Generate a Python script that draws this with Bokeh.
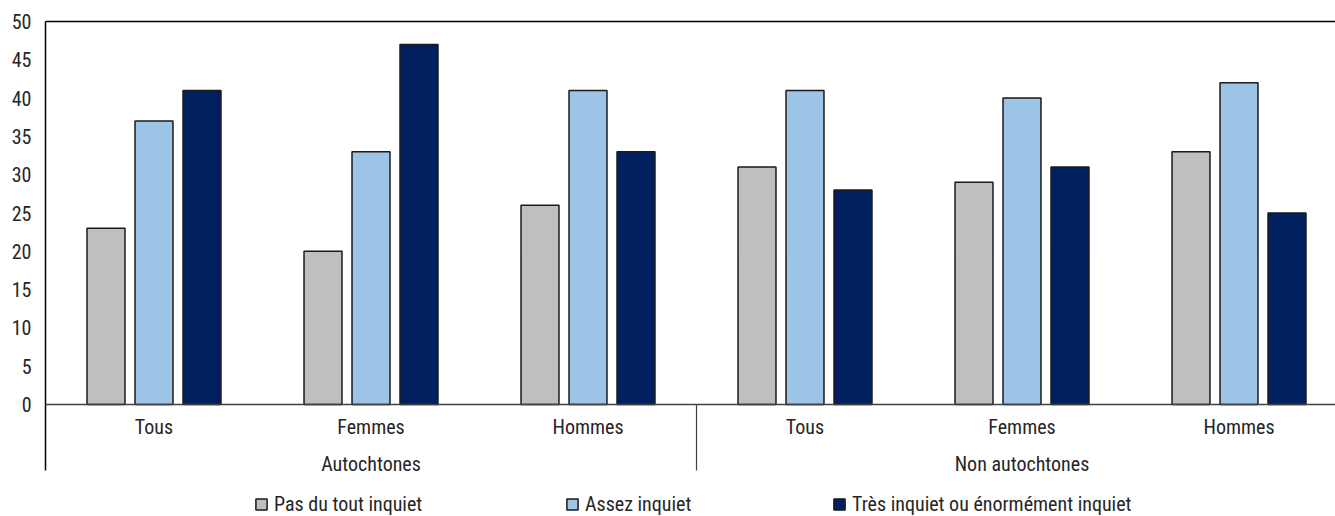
from bokeh.plotting import figure
from bokeh.models import (Range1d, LinearAxis, FixedTicker, Legend, LegendItem,
                          ColumnDataSource, Span)
from bokeh.core.properties import value
from bokeh.embed import file_html
from bokeh.resources import INLINE

# Survey shares (%) by population and sex
populations = ["Autochtones", "Non autochtones"]
subgroups = ["Tous", "Femmes", "Hommes"]
series_names = ["Pas du tout inquiet", "Assez inquiet",
                "Très inquiet ou énormément inquiet"]
pas_du_tout = [23, 20, 26, 31, 29, 33]
assez = [37, 33, 41, 41, 40, 42]
tres = [41, 47, 33, 28, 31, 25]
y_ticks = [0, 5, 10, 15, 20, 25, 30, 35, 40, 45, 50]

colors = ["#bfbfbf", "#9dc3e6", "#002060"]
FONT = "Roboto Condensed, DejaVu Sans Condensed, Roboto"
FS = "20px"
TXT = "#262626"

n = len(pas_du_tout)
centers = [i + 0.5 for i in range(n)]
bar_w = 0.175
step = 0.2212

# the value scale spans 383 px; the category band and key sit below it
PLOT_H = 383
BAND_H = 112
px = 50 / PLOT_H          # data units per pixel


def below(d):
    return -d * px


p = figure(width=1335, height=516, output_backend="svg", toolbar_location=None,
           x_range=Range1d(0, 1290 / 217), y_range=Range1d(below(BAND_H), 50),
           min_border_left=45, min_border_right=0, min_border_top=21,
           min_border_bottom=0, x_axis_type=None, y_axis_type=None)
p.outline_line_color = None
p.background_fill_color = "white"
p.border_fill_color = "white"

# value axis; its line continues down through the category band
yax = LinearAxis(ticker=FixedTicker(ticks=y_ticks, minor_ticks=[]),
                 bounds=(below(66), 50))
yax.axis_line_color = "black"
yax.axis_line_width = 1.5
yax.major_tick_line_color = None
yax.minor_tick_line_color = None
yax.major_label_text_font = FONT
yax.major_label_text_font_size = FS
yax.major_label_text_color = TXT
yax.major_label_standoff = 8
p.add_layout(yax, "left")

p.ygrid.ticker = FixedTicker(ticks=y_ticks[1:])
p.ygrid.grid_line_color = "#d9d9d9"
p.ygrid.grid_line_width = 1.5
p.xgrid.grid_line_color = None

# top border
top = LinearAxis(ticker=FixedTicker(ticks=[]), major_label_text_font_size="0px")
top.axis_line_color = "black"
top.axis_line_width = 1.5
top.major_tick_line_color = None
top.minor_tick_line_color = None
p.add_layout(top, "above")

renderers = []
for k, vals in enumerate([pas_du_tout, assez, tres]):
    src = ColumnDataSource(dict(x=[c + (k - 1) * step for c in centers], top=vals))
    r = p.vbar(x="x", top="top", width=bar_w, bottom=0, source=src,
               fill_color=colors[k], line_color="#1a1a1a", line_width=1.5)
    renderers.append(r)

# baseline
p.add_layout(Span(location=0, dimension="width", line_color="#404040",
                  line_width=1.5))

# separator between the two populations
p.segment(x0=[3], y0=[0], x1=[3], y1=[below(66)], line_color="#404040",
          line_width=1.2)

# subgroup and population labels
p.text(x=centers, y=[below(22)] * n, text=[subgroups[i % 3] for i in range(n)],
       text_align="center", text_baseline="middle", text_font=value(FONT),
       text_font_size=FS, text_color=TXT)
p.text(x=[1.5, 4.5], y=[below(59)] * 2, text=populations,
       text_align="center", text_baseline="middle", text_font=value(FONT),
       text_font_size=FS, text_color=TXT)

legend_x = [209, 520, 787]
for k, r in enumerate(renderers):
    leg = Legend(items=[LegendItem(label=series_names[k], renderers=[r])],
                 location=(legend_x[k], 0), orientation="horizontal")
    leg.padding = 0
    leg.margin = 0
    leg.border_line_color = None
    leg.background_fill_alpha = 0
    leg.glyph_width = 14
    leg.glyph_height = 14
    leg.label_standoff = 6
    leg.label_height = 16
    leg.label_text_font = FONT
    leg.label_text_font_size = FS
    leg.label_text_color = TXT
    p.add_layout(leg, "center")

open("out.html", "w").write(file_html(p, INLINE))
